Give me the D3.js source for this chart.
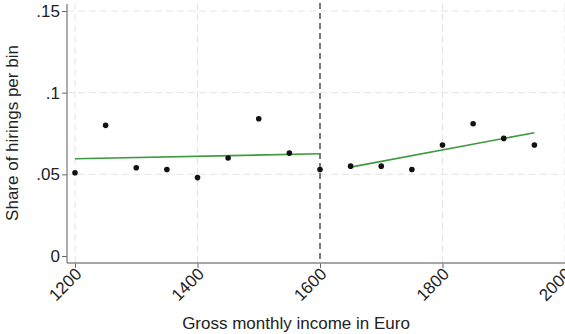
<!DOCTYPE html>
<html>
<head>
<meta charset="utf-8">
<script src="https://cdn.jsdelivr.net/npm/d3@7"></script>
<style>
  html, body { margin: 0; padding: 0; background: #fff; }
  svg { display: block; font-family: "Liberation Sans", Arial, sans-serif; }
</style>
</head>
<body>
<svg id="chart" width="565" height="334"></svg>
<script>
// Binned hiring shares by gross monthly income (bins of 50 Euro)
const incomeBins = [1200, 1250, 1300, 1350, 1400, 1450, 1500, 1550,
                    1600, 1650, 1700, 1750, 1800, 1850, 1900, 1950];
const hiringShare = [0.051, 0.080, 0.054, 0.053, 0.048, 0.060, 0.084, 0.063,
                     0.053, 0.055, 0.055, 0.053, 0.068, 0.081, 0.072, 0.068];

// Linear fits on each side of the 1600 threshold
const fitBelow = [[1200, 0.0595], [1600, 0.0626]];
const fitAbove = [[1650, 0.0544], [1950, 0.0755]];

const threshold = 1600;
const xTicks = [1200, 1400, 1600, 1800, 2000];
const yTicks = [0, 0.05, 0.1, 0.15];
const yTickLabels = ["0", ".05", ".1", ".15"];

const svg = d3.select("#chart");

const x = d3.scaleLinear().domain([1200, 2000]).range([75, 565]);
const y = d3.scaleLinear().domain([0, 0.15]).range([256, 11]);

const plotLeft = 67, plotBottom = 263, plotTop = 3, plotRight = 565;

// Grid lines
const grid = svg.append("g").attr("stroke", "#e4e4e4").attr("stroke-width", 1)
  .attr("stroke-dasharray", "7,4");
grid.selectAll("line.h").data(yTicks.filter(d => d > 0)).join("line")
  .attr("x1", plotLeft).attr("x2", plotRight)
  .attr("y1", d => y(d)).attr("y2", d => y(d));
grid.selectAll("line.v").data(xTicks.filter(d => d !== threshold)).join("line")
  .attr("x1", d => x(d)).attr("x2", d => x(d))
  .attr("y1", plotTop).attr("y2", plotBottom);

// Threshold marker
svg.append("line")
  .attr("x1", x(threshold)).attr("x2", x(threshold))
  .attr("y1", plotTop).attr("y2", plotBottom)
  .attr("stroke", "#333").attr("stroke-width", 1.3)
  .attr("stroke-dasharray", "6,4");

// Axes
const yAxis = d3.axisLeft(y).tickValues(yTicks)
  .tickFormat((d, i) => yTickLabels[i]).tickSize(5).tickPadding(2);
const gy = svg.append("g").attr("transform", `translate(${plotLeft},0)`).call(yAxis);
gy.select(".domain").remove();
gy.append("line").attr("x1", 0).attr("x2", 0).attr("y1", plotTop + 1).attr("y2", plotBottom)
  .attr("stroke", "#888").attr("stroke-width", 1.4);
gy.selectAll(".tick line").attr("stroke", "#666");
gy.selectAll(".tick text").attr("font-size", 17).attr("fill", "#222")
  .attr("font-family", "Liberation Sans, Arial, sans-serif");

const xAxis = d3.axisBottom(x).tickValues(xTicks).tickFormat(d3.format("d")).tickSize(5);
const gx = svg.append("g").attr("transform", `translate(0,${plotBottom})`).call(xAxis);
gx.select(".domain").remove();
gx.append("line").attr("x1", plotLeft).attr("x2", plotRight).attr("y1", 0).attr("y2", 0)
  .attr("stroke", "#888").attr("stroke-width", 1.4);
gx.selectAll(".tick line").attr("stroke", "#666");
gx.selectAll(".tick text")
  .attr("font-size", 17).attr("fill", "#222")
  .attr("font-family", "Liberation Sans, Arial, sans-serif")
  .attr("text-anchor", "end")
  .attr("dy", null).attr("y", 0)
  .attr("transform", "translate(4,9) rotate(-45)")
  .attr("dominant-baseline", "middle");

// Fit lines
const line = d3.line().x(d => x(d[0])).y(d => y(d[1]));
[fitBelow, fitAbove].forEach(seg => {
  svg.append("path").datum(seg).attr("d", line)
    .attr("fill", "none").attr("stroke", "#3e9a3e").attr("stroke-width", 1.6);
});

// Bin means
svg.append("g").selectAll("circle")
  .data(incomeBins.map((b, i) => [b, hiringShare[i]]))
  .join("circle")
  .attr("cx", d => x(d[0])).attr("cy", d => y(d[1]))
  .attr("r", 2.8).attr("fill", "#111");

// Axis titles
svg.append("text")
  .attr("x", 296).attr("y", 329)
  .attr("text-anchor", "middle").attr("font-size", 17).attr("fill", "#222")
  .text("Gross monthly income in Euro");

svg.append("text")
  .attr("transform", "translate(18,133) rotate(-90)")
  .attr("text-anchor", "middle").attr("font-size", 17).attr("fill", "#222")
  .text("Share of hirings per bin");
</script>
</body>
</html>
